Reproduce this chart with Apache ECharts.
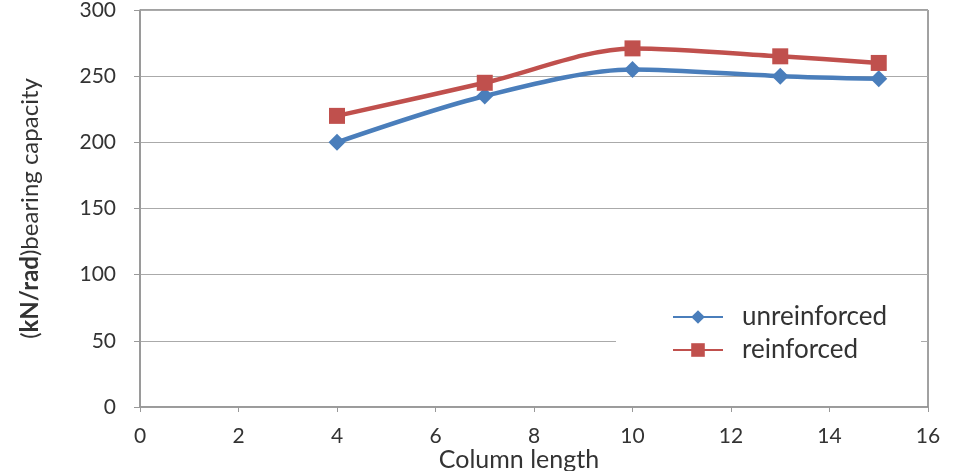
<!DOCTYPE html>
<html lang="en">
<head>
    <meta charset="UTF-8">
    <title>bearing capacity</title>
    <script src="https://cdn.jsdelivr.net/npm/echarts@6/dist/echarts.min.js"></script>
    <style type="text/css">
        html, body { margin: 0; padding: 0; background: #fff; }
        #chart { width: 956px; height: 471px; }
    </style>
</head>
<body>
<div id="chart"></div>
<script type="text/javascript">
    var lengths = [4, 7, 10, 13, 15];
    var unreinforced = [200, 235, 255, 250, 248];
    var reinforced = [220, 245, 271, 265, 260];
    var seriesNames = ['unreinforced', 'reinforced'];

    function pairs(xs, ys) {
        var out = [];
        for (var i = 0; i < xs.length; i++) {
            out.push([xs[i], ys[i]]);
        }
        return out;
    }

    var chart = echarts.init(document.getElementById('chart'));
    var font = 'Lato, "Open Sans", sans-serif';
    var txt = '#333';

    var option = {
        animation: false,
        textStyle: { fontFamily: font },
        grid: {
            left: 140, right: 28, top: 10, bottom: 64,
            outerBoundsMode: 'none',
            containLabel: false,
            show: true, borderColor: '#444', borderWidth: 1
        },
        legend: {
            data: seriesNames,
            orient: 'vertical',
            left: 616, top: 298,
            padding: [6, 34, 30, 56],
            backgroundColor: '#fff',
            itemWidth: 50, itemHeight: 17, itemGap: 7,
            textStyle: { fontSize: 26, color: txt, fontFamily: font, padding: [0, 0, 0, 14] }
        },
        xAxis: {
            type: 'value',
            min: 0, max: 16, interval: 2,
            name: 'Column length',
            nameLocation: 'middle',
            nameGap: 40,
            nameMoveOverlap: false,
            nameTextStyle: { fontSize: 25, color: txt, padding: [0, 30, 0, 0] },
            axisLine: { lineStyle: { color: '#999', width: 1.5 } },
            axisTick: { show: true, length: 5, lineStyle: { color: '#999' } },
            axisLabel: { fontSize: 21, color: txt, margin: 19 },
            splitLine: { show: false }
        },
        yAxis: {
            type: 'value',
            min: 0, max: 300, interval: 50,
            name: '',
            nameLocation: 'middle',
            nameRotate: 90,
            nameGap: 98,
            nameMoveOverlap: false,
            nameTextStyle: {
                fontSize: 24, color: txt,
                rich: { b: { fontSize: 24, fontWeight: 'bold', color: txt } }
            },
            axisLine: { show: true, lineStyle: { color: '#999', width: 1.5 } },
            axisTick: { show: true, length: 6, lineStyle: { color: '#999' } },
            axisLabel: { fontSize: 21, color: txt, margin: 24 },
            splitLine: { lineStyle: { color: '#aaa', width: 1.2 } }
        },
        series: [{
            name: seriesNames[0],
            type: 'line',
            smooth: 0.3,
            data: pairs(lengths, unreinforced),
            symbol: 'diamond',
            symbolSize: 17,
            itemStyle: { color: '#4a7ebb' },
            lineStyle: { color: '#4a7ebb', width: 4.5 }
        }, {
            name: seriesNames[1],
            type: 'line',
            smooth: 0.3,
            data: pairs(lengths, reinforced),
            symbol: 'rect',
            symbolSize: 16,
            itemStyle: { color: '#c0504d' },
            lineStyle: { color: '#c0504d', width: 4.5 }
        }]
    };
    option.yAxis.name = '({b|kN/rad})bearing capacity';
    chart.setOption(option);
</script>
</body>
</html>
